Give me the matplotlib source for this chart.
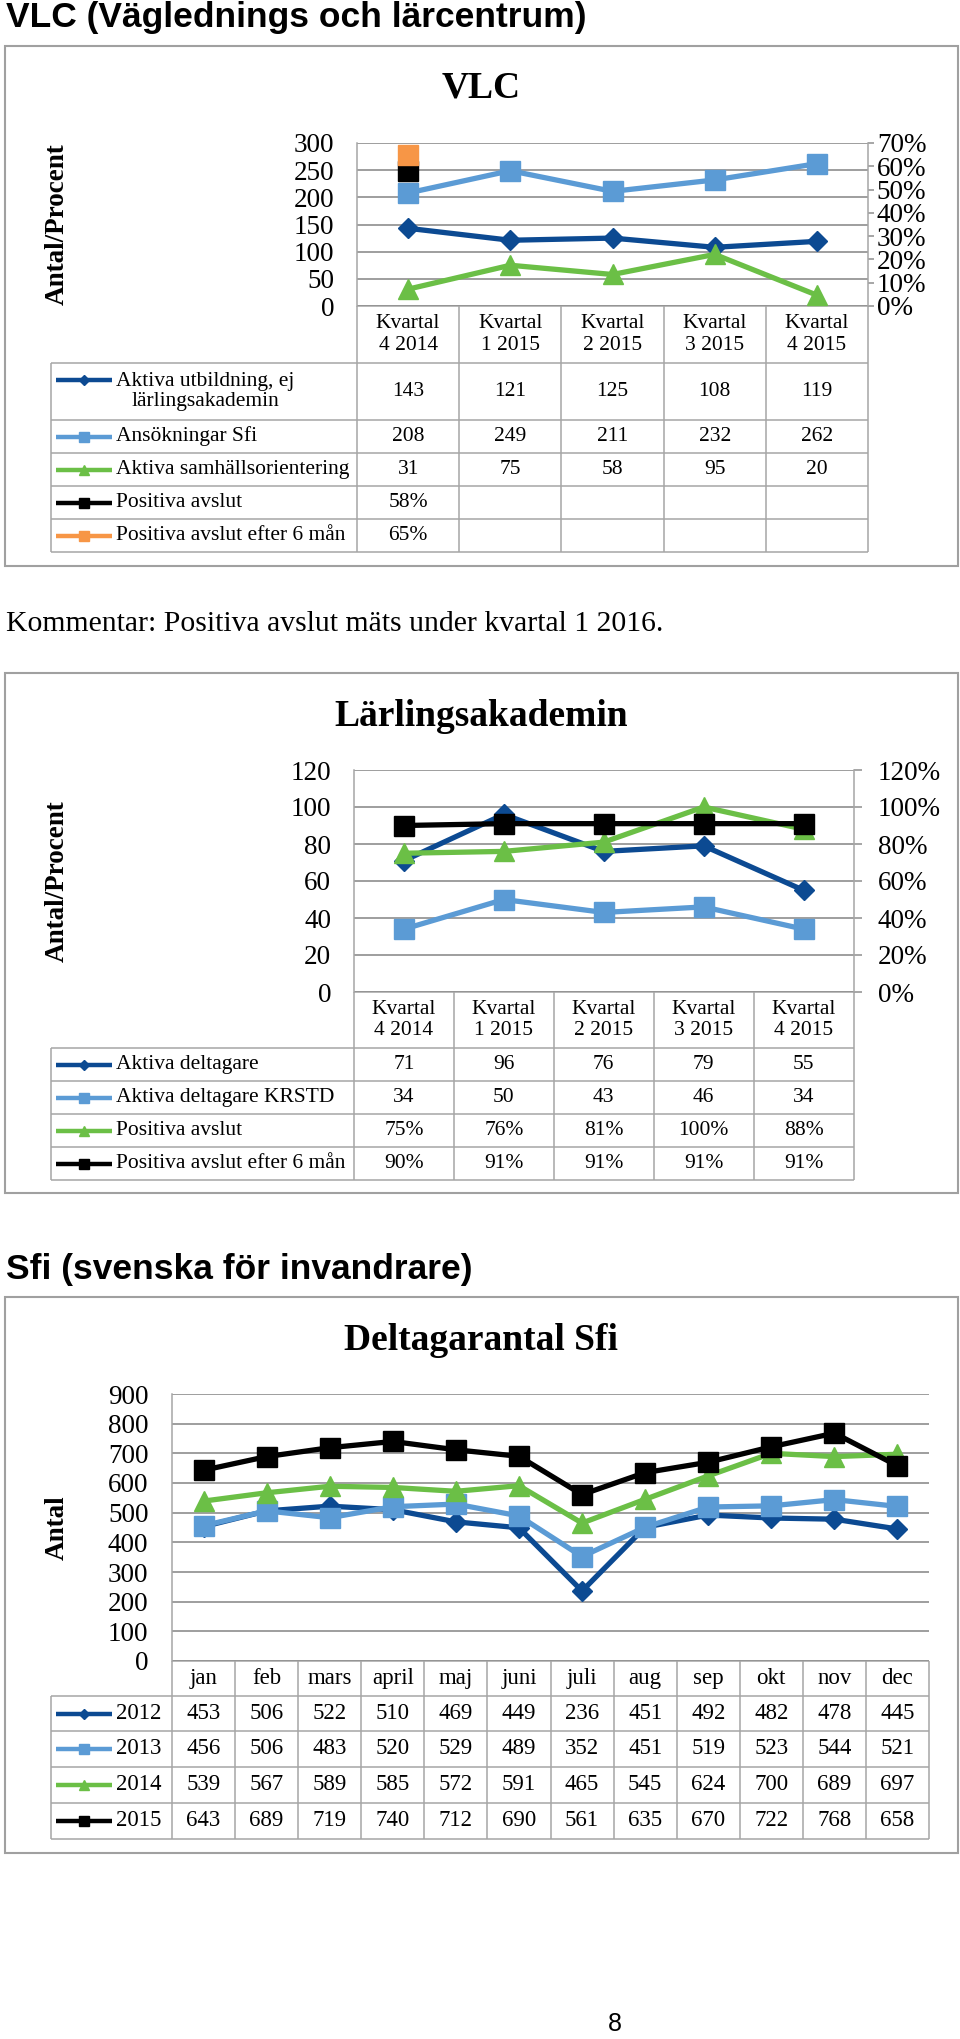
import numpy as np
import matplotlib
matplotlib.use("Agg")
import matplotlib.pyplot as plt
from matplotlib.patches import Rectangle
from matplotlib.ticker import PercentFormatter, MultipleLocator

W, H, DPI = 960, 2039, 100

SERIF = ["Liberation Serif", "DejaVu Serif"]
SANS = ["Liberation Sans", "DejaVu Sans"]

DARK = "#0c4a92"
LIGHT = "#5b9bd5"
GREEN = "#6bbf46"
ORANGE = "#f79646"
BLACK = "#000000"
GRID = "#8e8e8e"
LINE = "#a6a6a6"

# ---- data ----
quarters = ["Kvartal\n4 2014", "Kvartal\n1 2015", "Kvartal\n2 2015",
            "Kvartal\n3 2015", "Kvartal\n4 2015"]

vlc_aktiva = [143, 121, 125, 108, 119]
vlc_ansokningar = [208, 249, 211, 232, 262]
vlc_samhall = [31, 75, 58, 95, 20]
vlc_pos_avslut = [58, None, None, None, None]      # procent
vlc_pos_avslut_6m = [65, None, None, None, None]   # procent

la_aktiva = [71, 96, 76, 79, 55]
la_krstd = [34, 50, 43, 46, 34]
la_pos_avslut = [75, 76, 81, 100, 88]              # procent
la_pos_avslut_6m = [90, 91, 91, 91, 91]            # procent

months = ["jan", "feb", "mars", "april", "maj", "juni", "juli",
          "aug", "sep", "okt", "nov", "dec"]
sfi_2012 = [453, 506, 522, 510, 469, 449, 236, 451, 492, 482, 478, 445]
sfi_2013 = [456, 506, 483, 520, 529, 489, 352, 451, 519, 523, 544, 521]
sfi_2014 = [539, 567, 589, 585, 572, 591, 465, 545, 624, 700, 689, 697]
sfi_2015 = [643, 689, 719, 740, 712, 690, 561, 635, 670, 722, 768, 658]

fig = plt.figure(figsize=(W / DPI, H / DPI), dpi=DPI)
page = fig.add_axes([0, 0, 1, 1])
page.set_xlim(0, W)
page.set_ylim(H, 0)
page.axis("off")


def px_axes(l, t, r, b):
    return fig.add_axes([l / W, 1 - b / H, (r - l) / W, (b - t) / H])


def seg(x0, y0, x1, y1):
    page.plot([x0, x1], [y0, y1], color=LINE, lw=1.1, solid_capstyle="butt")


def as_float(vals, scale=1.0):
    return np.array([np.nan if v is None else v / scale for v in vals], dtype=float)


def draw_chart(box, title, title_y, ylabel, plot, ymax, ystep, cats, series,
               row_edges, pct_max=None, pct_step=0.1, r_len=0, r_pad=0,
               l_pad=16.5, label_left=51, tfs=15.5):
    bx0, by0, bx1, by1 = box
    page.add_patch(Rectangle((bx0, by0), bx1 - bx0, by1 - by0, fill=False,
                             ec="#a0a0a0", lw=1.5))
    page.text(481, title_y, title, ha="center", va="center", fontsize=27,
              fontweight="bold", family=SERIF)

    pl, pt, pr, pb = plot
    ax = px_axes(pl, pt, pr, pb)
    ax.set_facecolor("none")
    ax.set_zorder(2)
    n = len(cats)
    x = np.arange(n)
    ax.set_xlim(-0.5, n - 0.5)
    ax.set_ylim(0, ymax)
    ax.yaxis.set_major_locator(MultipleLocator(ystep))
    ax.yaxis.grid(True, color=GRID, lw=1.2)
    ax.set_axisbelow(True)
    ax.set_xticks([])
    ax.tick_params(axis="y", length=0, pad=l_pad, labelsize=19.5)
    for lab in ax.get_yticklabels():
        lab.set_family(SERIF)
    for s in ["top", "right", "bottom"]:
        ax.spines[s].set_visible(False)
    ax.spines["left"].set_color(LINE)
    ax.spines["left"].set_linewidth(1.1)
    ax.set_ylabel(ylabel, fontsize=19.5, fontweight="bold", family=SERIF)
    ax.yaxis.set_label_coords((70 - pl) / (pr - pl), 0.5)

    ax2 = None
    if pct_max is not None:
        ax2 = ax.twinx()
        ax2.set_ylim(0, pct_max)
        ax2.set_xlim(-0.5, n - 0.5)
        ax2.yaxis.set_major_locator(MultipleLocator(pct_step))
        ax2.yaxis.set_major_formatter(PercentFormatter(1.0, decimals=0))
        ax2.tick_params(axis="y", length=r_len, width=1.1, color=GRID,
                        pad=r_pad, labelsize=19.5)
        for lab in ax2.get_yticklabels():
            lab.set_family(SERIF)
        for s in ["top", "left", "bottom"]:
            ax2.spines[s].set_visible(False)
        ax2.spines["right"].set_color(LINE)
        ax2.spines["right"].set_linewidth(1.1)

    marker_big = {"D": 10.5, "s": 14.5, "^": 14.5}
    marker_small = {"D": 5.5, "s": 7.0, "^": 7.5}
    for label, vals, color, marker, is_pct in series:
        target = ax2 if (is_pct and ax2 is not None) else ax
        y = as_float(vals, 100.0 if target is ax2 else 1.0)
        target.plot(x, y, color=color, lw=3.8, marker=marker,
                    ms=marker_big[marker], mec=color, mfc=color, clip_on=False)

    # table
    edges = np.linspace(pl, pr, n + 1)
    centers = (edges[:-1] + edges[1:]) / 2
    header_bottom = row_edges[0]
    seg(pl, pb, pr, pb)
    for e in edges:
        seg(e, pb, e, row_edges[-1])
    seg(label_left, header_bottom, label_left, row_edges[-1])
    for y in row_edges:
        seg(label_left, y, pr, y)
    for cx, c in zip(centers, cats):
        page.text(cx, (pb + header_bottom) / 2, c, ha="center", va="center",
                  fontsize=tfs, family=SERIF, linespacing=1.2)

    for (label, vals, color, marker, is_pct), y0, y1 in zip(series, row_edges[:-1], row_edges[1:]):
        yc = (y0 + y1) / 2
        nl = label.count("\n") + 1
        key_y = yc - (nl - 1) * 11.5
        page.plot([56, 112], [key_y, key_y], color=color, lw=3.2,
                  solid_capstyle="butt")
        page.plot([84], [key_y], marker=marker, ms=marker_small[marker],
                  color=color, mec=color)
        if nl > 1:
            page.text(205, yc, label, ha="center", va="center", fontsize=tfs,
                      family=SERIF, linespacing=1.1, multialignment="center")
        else:
            page.text(116, yc, label, ha="left", va="center", fontsize=tfs,
                      family=SERIF)
        for cx, v in zip(centers, vals):
            if v is None:
                continue
            txt = f"{v}%" if is_pct else f"{v}"
            page.text(cx, yc, txt, ha="center", va="center", fontsize=tfs,
                      family=SERIF)
    return ax


# ---- page texts ----
page.text(6, 17, "VLC (Väglednings och lärcentrum)", ha="left", va="center",
          fontsize=25.5, fontweight="bold", family=SANS)
page.text(6, 624, "Kommentar: Positiva avslut mäts under kvartal 1 2016.",
          ha="left", va="center", fontsize=21.4, family=SERIF)
page.text(6, 1269, "Sfi (svenska för invandrare)", ha="left", va="center",
          fontsize=25.5, fontweight="bold", family=SANS)
page.text(615, 2024, "8", ha="center", va="center", fontsize=18, family=SANS)

# ---- VLC ----
draw_chart(
    box=(5, 46, 958, 566), title="VLC", title_y=88, ylabel="Antal/Procent",
    plot=(357, 143, 868, 306), ymax=300, ystep=50, cats=quarters,
    series=[
        ("Aktiva utbildning, ej\nlärlingsakademin", vlc_aktiva, DARK, "D", False),
        ("Ansökningar Sfi", vlc_ansokningar, LIGHT, "s", False),
        ("Aktiva samhällsorientering", vlc_samhall, GREEN, "^", False),
        ("Positiva avslut", vlc_pos_avslut, BLACK, "s", True),
        ("Positiva avslut efter 6 mån", vlc_pos_avslut_6m, ORANGE, "s", True),
    ],
    row_edges=[363, 420, 453, 486, 519, 552],
    pct_max=0.7, pct_step=0.1, r_len=4.3, r_pad=2.0,
)

# ---- Lärlingsakademin ----
draw_chart(
    box=(5, 673, 958, 1193), title="Lärlingsakademin", title_y=716,
    ylabel="Antal/Procent",
    plot=(354, 770, 853.5, 992), ymax=120, ystep=20, cats=quarters,
    series=[
        ("Aktiva deltagare", la_aktiva, DARK, "D", False),
        ("Aktiva deltagare KRSTD", la_krstd, LIGHT, "s", False),
        ("Positiva avslut", la_pos_avslut, GREEN, "^", True),
        ("Positiva avslut efter 6 mån", la_pos_avslut_6m, BLACK, "s", True),
    ],
    row_edges=[1048, 1081, 1114, 1147, 1180],
    pct_max=1.2, pct_step=0.2, r_len=5.4, r_pad=12,
)

# ---- Deltagarantal Sfi ----
draw_chart(
    box=(5, 1297, 958, 1853), title="Deltagarantal Sfi", title_y=1341,
    ylabel="Antal",
    plot=(172, 1394, 929, 1661), ymax=900, ystep=100, cats=months,
    series=[
        ("2012", sfi_2012, DARK, "D", False),
        ("2013", sfi_2013, LIGHT, "s", False),
        ("2014", sfi_2014, GREEN, "^", False),
        ("2015", sfi_2015, BLACK, "s", False),
    ],
    row_edges=[1696, 1731, 1767, 1803, 1839],
    l_pad=17, tfs=16.5,
)

fig.savefig("out.png", dpi=DPI)
